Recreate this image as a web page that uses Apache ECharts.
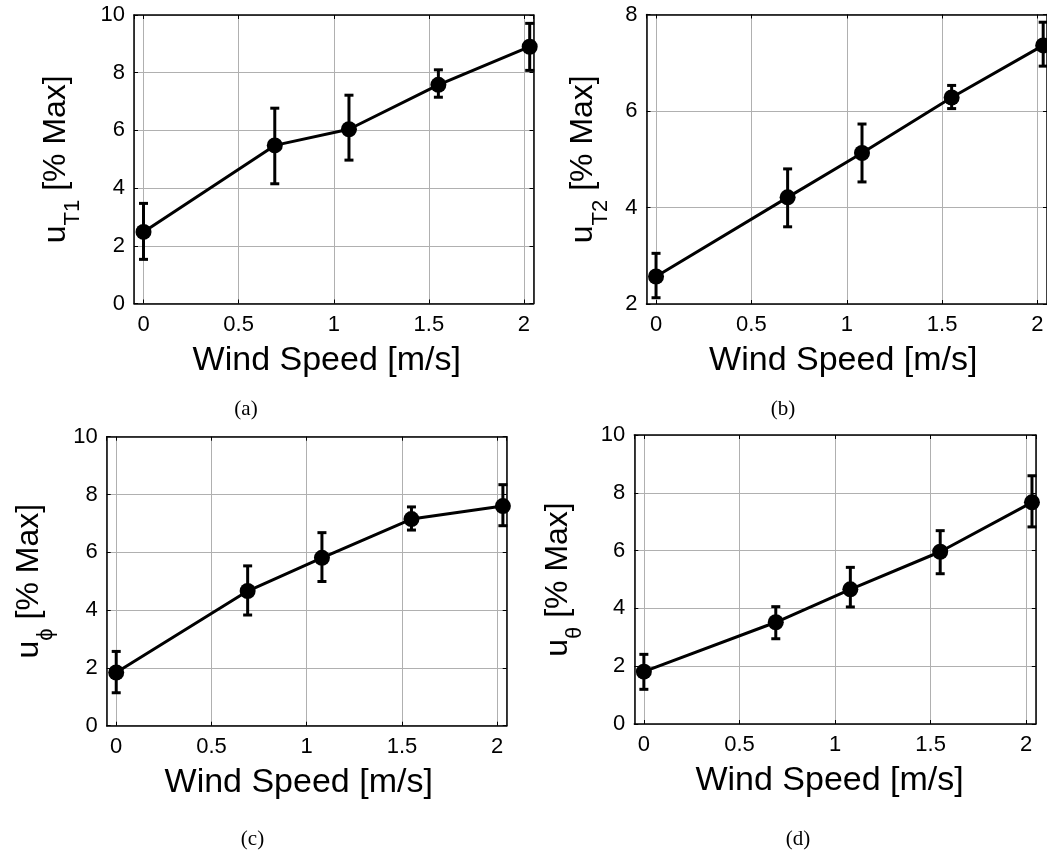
<!DOCTYPE html>
<html><head><meta charset="utf-8">
<script src="https://cdn.jsdelivr.net/npm/echarts@6.0.0/dist/echarts.min.js"></script>
<style>html,body{margin:0;padding:0;background:#fff}#c{width:1047px;height:852px}</style>
</head><body><div id="c"></div>
<script>
// ---- data ----
const windSpeed = [0, 0.69, 1.08, 1.55, 2.03];
const xTickValues = [0, 0.5, 1, 1.5, 2];

const uT1Mean = [2.48, 5.48, 6.04, 7.58, 8.90];
const uT1Low  = [1.53, 4.15, 4.97, 7.15, 8.08];
const uT1High = [3.47, 6.77, 7.22, 8.10, 9.71];

const uT2Mean = [2.57, 4.21, 5.13, 6.28, 7.36];
const uT2Low  = [2.13, 3.60, 4.53, 6.05, 6.93];
const uT2High = [3.05, 4.80, 5.73, 6.53, 7.84];

const uPhiMean = [1.84, 4.66, 5.81, 7.15, 7.60];
const uPhiLow  = [1.14, 3.83, 4.99, 6.77, 6.92];
const uPhiHigh = [2.57, 5.53, 6.68, 7.57, 8.34];

const uThetaMean = [1.81, 3.52, 4.66, 5.96, 7.67];
const uThetaLow  = [1.20, 2.95, 4.05, 5.20, 6.82];
const uThetaHigh = [2.41, 4.06, 5.42, 6.69, 8.59];

const yTicksA = [0, 2, 4, 6, 8, 10];
const yTicksB = [2, 4, 6, 8];
const yTicksC = [0, 2, 4, 6, 8, 10];
const yTicksD = [0, 2, 4, 6, 8, 10];

const subscripts = ['T1', 'T2', 'ϕ', 'θ'];
const captions = ['(a)', '(b)', '(c)', '(d)'];
const xAxisTitle = 'Wind Speed [m/s]';
const yAxisTitleRest = ' [% Max]';

// ---- layout ----
const panels = [
  {mean: uT1Mean, low: uT1Low, high: uT1High, yt: yTicksA,
   grid: {left: 134, top: 15, width: 399.5, height: 288.5}, yGap: 50, xPadR: 14, cap: [246, 409]},
  {mean: uT2Mean, low: uT2Low, high: uT2High, yt: yTicksB,
   grid: {left: 646.5, top: 14.5, width: 400.8, height: 289.5}, yGap: 35, xPadR: 7, cap: [783, 409]},
  {mean: uPhiMean, low: uPhiLow, high: uPhiHigh, yt: yTicksC,
   grid: {left: 106.7, top: 436.7, width: 400, height: 289}, yGap: 50, xPadR: 16, cap: [252.5, 839]},
  {mean: uThetaMean, low: uThetaLow, high: uThetaHigh, yt: yTicksD,
   grid: {left: 634.3, top: 435, width: 401.5, height: 289}, yGap: 48, xPadR: 11, cap: [798, 839]}
];

const FONT = 'Liberation Sans, Arial, sans-serif';
const xMin = xTickValues[0] - 0.05;
const xMax = xTickValues[xTickValues.length - 1] + 0.05;

const grids = [], xAxes = [], yAxes = [], series = [], graphics = [];

panels.forEach((p, i) => {
  grids.push(Object.assign({containLabel: false}, p.grid));
  const yMin = p.yt[0], yMax = p.yt[p.yt.length - 1], yInt = p.yt[1] - p.yt[0];
  const axisLine = {show: true, onZero: false, lineStyle: {color: '#000', width: 1.5}};
  const tick = {show: true, inside: true, length: 4, lineStyle: {color: '#000', width: 1}};
  // bottom x
  xAxes.push({
    type: 'value', gridIndex: i, position: 'bottom', min: xMin, max: xMax, splitNumber: 4,
    axisLine, axisTick: tick,
    axisLabel: {show: true, showMinLabel: false, showMaxLabel: false, fontSize: 22, color: '#000', fontFamily: FONT, margin: 10},
    splitLine: {show: true, lineStyle: {color: '#b0b0b0', width: 1}},
    name: xAxisTitle, nameLocation: 'middle', nameGap: 40,
    nameTextStyle: {fontSize: 34, color: '#000', fontFamily: FONT, padding: [0, p.xPadR, 0, 0]}
  });
  // top x
  xAxes.push({
    type: 'value', gridIndex: i, position: 'top', min: xMin, max: xMax, splitNumber: 4,
    axisLine, axisTick: tick, axisLabel: {show: false}, splitLine: {show: false}
  });
  // left y
  yAxes.push({
    type: 'value', gridIndex: i, position: 'left', min: yMin, max: yMax, interval: yInt,
    axisLine, axisTick: tick,
    axisLabel: {fontSize: 22, color: '#000', fontFamily: FONT, margin: 9},
    splitLine: {show: true, lineStyle: {color: '#b0b0b0', width: 1}},
    name: '{m|u}{s|' + subscripts[i] + '}{m|' + yAxisTitleRest + '}',
    nameLocation: 'middle', nameRotate: 90, nameGap: p.yGap,
    nameTextStyle: {
      color: '#000', fontFamily: FONT,
      rich: {
        m: {fontSize: 32, color: '#000', fontFamily: FONT, verticalAlign: 'bottom', padding: [0, 0, 12, 0]},
        s: {fontSize: 22, color: '#000', fontFamily: FONT, verticalAlign: 'bottom'}
      }
    }
  });
  // right y
  yAxes.push({
    type: 'value', gridIndex: i, position: 'right', min: yMin, max: yMax, interval: yInt,
    axisLine, axisTick: tick, axisLabel: {show: false}, splitLine: {show: false}
  });

  const errData = windSpeed.map((x, k) => [x, p.low[k], p.high[k]]);
  series.push({
    type: 'custom', xAxisIndex: 2 * i, yAxisIndex: 2 * i, clip: false, z: 3,
    data: errData,
    renderItem: function (params, api) {
      const x = api.value(0);
      const a = api.coord([x, api.value(1)]);
      const b = api.coord([x, api.value(2)]);
      const cw = 4.5;
      const st = {stroke: '#000', lineWidth: 3};
      return {type: 'group', children: [
        {type: 'line', shape: {x1: a[0], y1: a[1], x2: b[0], y2: b[1]}, style: st},
        {type: 'line', shape: {x1: a[0] - cw, y1: a[1], x2: a[0] + cw, y2: a[1]}, style: st},
        {type: 'line', shape: {x1: b[0] - cw, y1: b[1], x2: b[0] + cw, y2: b[1]}, style: st}
      ]};
    }
  });
  series.push({
    type: 'line', xAxisIndex: 2 * i, yAxisIndex: 2 * i, clip: false, z: 4,
    data: windSpeed.map((x, k) => [x, p.mean[k]]),
    symbol: 'circle', symbolSize: 16,
    lineStyle: {color: '#000', width: 3},
    itemStyle: {color: '#000'},
    animation: false
  });
  graphics.push({
    type: 'text', x: p.cap[0], y: p.cap[1],
    style: {text: captions[i], font: '21px "Liberation Serif", "Times New Roman", serif',
            fill: '#000', textAlign: 'center', textVerticalAlign: 'middle'}
  });
});

const chart = echarts.init(document.getElementById('c'), null, {renderer: 'canvas'});
chart.setOption({
  animation: false,
  backgroundColor: '#fff',
  grid: grids,
  xAxis: xAxes,
  yAxis: yAxes,
  series: series,
  graphic: graphics
});
</script>
</body></html>
